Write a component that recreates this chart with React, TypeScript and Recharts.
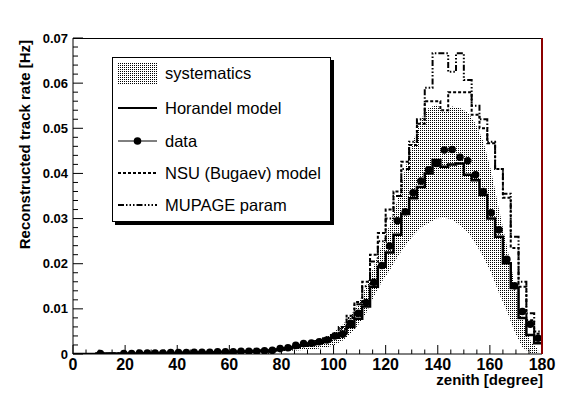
import React from "react";
import { ComposedChart, Area, Line, XAxis, YAxis } from "recharts";

// zenith bins, 3 degrees wide
const binCenters = [
  1.5, 4.5, 7.5, 10.5, 13.5, 16.5, 19.5, 22.5, 25.5, 28.5,
  31.5, 34.5, 37.5, 40.5, 43.5, 46.5, 49.5, 52.5, 55.5, 58.5,
  61.5, 64.5, 67.5, 70.5, 73.5, 76.5, 79.5, 82.5, 85.5, 88.5,
  91.5, 94.5, 97.5, 100.5, 103.5, 106.5, 109.5, 112.5, 115.5, 118.5,
  121.5, 124.5, 127.5, 130.5, 133.5, 136.5, 139.5, 142.5, 145.5, 148.5,
  151.5, 154.5, 157.5, 160.5, 163.5, 166.5, 169.5, 172.5, 175.5, 178.5,
];

const dataRate = [
  null, null, null, 0.0001, null, null, 0.0001, 0.0001, 0.0002, 0.0002,
  0.0002, 0.0002, 0.0003, 0.0003, 0.0003, 0.0004, 0.0004, 0.0004, 0.0005, 0.0005,
  0.0005, 0.0006, 0.0006, 0.0006, 0.0007, 0.0008, 0.0012, 0.0014, 0.0019, 0.0023,
  0.0024, 0.0027, 0.0031, 0.004, 0.0044, 0.0068, 0.009, 0.0114, 0.0159, 0.0196,
  0.0239, 0.0295, 0.0315, 0.0357, 0.0383, 0.0408, 0.0422, 0.0452, 0.0453, 0.0436,
  0.0428, 0.0397, 0.036, 0.0313, 0.0275, 0.021, 0.0151, 0.0094, 0.0066, 0.0035,
];

const horandel = [
  0, 0, 0, 0.0001, 0.0001, 0.0001, 0.0001, 0.0001, 0.0001, 0.0001,
  0.0002, 0.0002, 0.0002, 0.0002, 0.0003, 0.0003, 0.0003, 0.0003, 0.0004, 0.0004,
  0.0004, 0.0005, 0.0005, 0.0006, 0.0007, 0.0008, 0.001, 0.0012, 0.0015, 0.0018,
  0.0021, 0.0025, 0.003, 0.0036, 0.0046, 0.006, 0.0078, 0.0105, 0.0149, 0.0193,
  0.0225, 0.0264, 0.031, 0.0345, 0.037, 0.04, 0.043, 0.0415, 0.042, 0.0422,
  0.0397, 0.0385, 0.0352, 0.03, 0.026, 0.0201, 0.0146, 0.008, 0.0042, 0.0024,
];

const nsu = [
  0, 0, 0, 0.0001, 0.0001, 0.0001, 0.0001, 0.0001, 0.0002, 0.0002,
  0.0002, 0.0002, 0.0003, 0.0003, 0.0003, 0.0003, 0.0004, 0.0004, 0.0004, 0.0005,
  0.0005, 0.0005, 0.0006, 0.0007, 0.0008, 0.0009, 0.0011, 0.0013, 0.0016, 0.002,
  0.0024, 0.0029, 0.0035, 0.0045, 0.006, 0.0085, 0.0115, 0.016, 0.022, 0.0268,
  0.032, 0.036, 0.0426, 0.0463, 0.051, 0.056, 0.056, 0.054, 0.058, 0.058,
  0.058, 0.053, 0.05, 0.0467, 0.041, 0.0346, 0.0235, 0.0149, 0.0075, 0.0045,
];

const mupage = [
  0, 0, 0, 0.0001, 0.0001, 0.0001, 0.0001, 0.0001, 0.0001, 0.0002,
  0.0002, 0.0002, 0.0002, 0.0003, 0.0003, 0.0003, 0.0004, 0.0004, 0.0004, 0.0005,
  0.0005, 0.0005, 0.0006, 0.0007, 0.0008, 0.0009, 0.001, 0.0012, 0.0015, 0.0019,
  0.0023, 0.0028, 0.0034, 0.0042, 0.0055, 0.008, 0.011, 0.015, 0.0205, 0.025,
  0.03, 0.035, 0.041, 0.047, 0.052, 0.059, 0.0666, 0.0666, 0.0625, 0.0666,
  0.0607, 0.055, 0.052, 0.047, 0.041, 0.0355, 0.026, 0.016, 0.009, 0.005,
];

const sysLow = [
  0, 0, 0, 0.0001, 0.0001, 0.0001, 0.0001, 0.0001, 0.0001, 0.0001,
  0.0001, 0.0001, 0.0001, 0.0001, 0.0002, 0.0002, 0.0002, 0.0002, 0.0003, 0.0003,
  0.0003, 0.0003, 0.0003, 0.0004, 0.0005, 0.0005, 0.0006, 0.0007, 0.0008, 0.0009,
  0.001, 0.0012, 0.0015, 0.002, 0.003, 0.0045, 0.0065, 0.009, 0.0128, 0.016,
  0.0185, 0.0215, 0.024, 0.0262, 0.028, 0.029, 0.03, 0.0302, 0.0298, 0.0285,
  0.027, 0.0245, 0.0215, 0.018, 0.0135, 0.0095, 0.005, 0.0015, 0.0002, 0.0001,
];

const sysHigh = [
  0, 0, 0, 0.0002, 0.0002, 0.0002, 0.0002, 0.0002, 0.0002, 0.0002,
  0.0003, 0.0003, 0.0003, 0.0003, 0.0004, 0.0004, 0.0004, 0.0004, 0.0006, 0.0006,
  0.0006, 0.0007, 0.0007, 0.0008, 0.0009, 0.001, 0.0013, 0.0016, 0.002, 0.0024,
  0.0028, 0.0033, 0.004, 0.005, 0.0065, 0.0085, 0.011, 0.015, 0.0195, 0.024,
  0.0285, 0.034, 0.041, 0.047, 0.052, 0.0545, 0.0552, 0.0537, 0.0548, 0.0545,
  0.0535, 0.051, 0.047, 0.0405, 0.032, 0.024, 0.0155, 0.008, 0.003, 0.001,
];

const xTicks = [
  0, 5, 10, 15, 20, 25, 30, 35, 40, 45, 50, 55, 60, 65, 70, 75, 80, 85, 90,
  95, 100, 105, 110, 115, 120, 125, 130, 135, 140, 145, 150, 155, 160, 165, 170, 175, 180,
];
const xTickLabels = ["0", "20", "40", "60", "80", "100", "120", "140", "160", "180"];

const yTicks = [
  0, 0.002, 0.004, 0.006, 0.008, 0.01, 0.012, 0.014, 0.016, 0.018,
  0.02, 0.022, 0.024, 0.026, 0.028, 0.03, 0.032, 0.034, 0.036, 0.038,
  0.04, 0.042, 0.044, 0.046, 0.048, 0.05, 0.052, 0.054, 0.056, 0.058,
  0.06, 0.062, 0.064, 0.066, 0.068, 0.07,
];
const yTickLabels = ["0", "0.01", "0.02", "0.03", "0.04", "0.05", "0.06", "0.07"];

const BIN_WIDTH = 3;
const FONT = "'Liberation Sans', Arial, Helvetica, sans-serif";
const X_TM = 10;
const Y_TM = 10;

const DOTTED = "3 2";
const DASHDOT = "6 2 1.5 2 1.5 2 1.5 2";

// histogram rows at the low edge of each bin, plus the closing edge
const last = binCenters.length - 1;
const stepRows = binCenters.map((c, i) => ({
  x: c - BIN_WIDTH / 2,
  horandel: horandel[i],
  nsu: nsu[i],
  mupage: mupage[i],
}));
stepRows.push({ x: 180, horandel: horandel[last], nsu: nsu[last], mupage: mupage[last] });

const bandRows = binCenters.map((c, i) => ({ x: c, band: [sysLow[i], sysHigh[i]] }));
const pointRows = binCenters
  .map((c, i) => ({ x: c, rate: dataRate[i] }))
  .filter((r) => r.rate !== null);

function XTick(props: any) {
  const { x, y, index } = props;
  const axisY = y - X_TM;
  const major = index % 4 === 0;
  return (
    <g>
      <line x1={x} x2={x} y1={axisY} y2={axisY - (major ? 9 : 4.5)} stroke="#000" strokeWidth={1} />
      {major && (
        <text x={x} y={axisY + 15.5} textAnchor="middle" fontFamily={FONT} fontWeight="bold" fontSize={16} fill="#000">
          {xTickLabels[index / 4]}
        </text>
      )}
    </g>
  );
}

function YTick(props: any) {
  const { x, y, index } = props;
  const axisX = x + Y_TM;
  const major = index % 5 === 0;
  return (
    <g>
      <line x1={axisX} x2={axisX + (major ? 10 : 5)} y1={y} y2={y} stroke="#000" strokeWidth={1} />
      {major && (
        <text x={axisX - 5} y={y + 4.6} textAnchor="end" fontFamily={FONT} fontWeight="bold" fontSize={13} fill="#000">
          {yTickLabels[index / 5]}
        </text>
      )}
    </g>
  );
}

function LegendBox() {
  const rows = [16, 51, 84, 116, 148];
  const textStyle = { fontFamily: FONT, fontSize: 16.5, fill: "#000" };
  return (
    <svg width={224} height={170} style={{ position: "absolute", left: 112, top: 57 }}>
      <rect x={3} y={3} width={219} height={165} fill="#000" />
      <rect x={0.5} y={0.5} width={218} height={164} fill="#fff" stroke="#000" strokeWidth={1} />
      <rect x={6} y={5} width={39} height={23} fill="url(#sysDots)" />
      <text x={53} y={rows[0] + 5.5} {...textStyle}>systematics</text>
      <line x1={6} x2={45} y1={rows[1]} y2={rows[1]} stroke="#000" strokeWidth={2} />
      <text x={53} y={rows[1] + 5.5} {...textStyle}>Horandel model</text>
      <line x1={6} x2={45} y1={rows[2]} y2={rows[2]} stroke="#000" strokeWidth={1} />
      <circle cx={25.5} cy={rows[2]} r={3.8} fill="#000" />
      <text x={53} y={rows[2] + 5.5} {...textStyle}>data</text>
      <line x1={6} x2={45} y1={rows[3]} y2={rows[3]} stroke="#000" strokeWidth={2} strokeDasharray={DOTTED} />
      <text x={53} y={rows[3] + 5.5} {...textStyle}>NSU (Bugaev) model</text>
      <line x1={6} x2={45} y1={rows[4]} y2={rows[4]} stroke="#000" strokeWidth={2} strokeDasharray={DASHDOT} />
      <text x={53} y={rows[4] + 5.5} {...textStyle}>MUPAGE param</text>
    </svg>
  );
}

export default function App() {
  return (
    <div style={{ position: "absolute", left: 0, top: 0, width: 588, height: 395, background: "#fff" }}>
      <svg width={0} height={0} style={{ position: "absolute" }}>
        <defs>
          <pattern id="sysDots" width={2} height={2} patternUnits="userSpaceOnUse">
            <rect x={0} y={0} width={1} height={1} fill="#000" />
          </pattern>
        </defs>
      </svg>
      <ComposedChart width={588} height={395} margin={{ top: 38, right: 46, bottom: 11, left: 13 }}>
        <XAxis
          type="number"
          dataKey="x"
          domain={[0, 180]}
          ticks={xTicks}
          interval={0}
          allowDataOverflow
          height={30}
          tickLine={false}
          tickSize={0}
          tickMargin={X_TM}
          tick={(p: any) => <XTick {...p} />}
          axisLine={{ stroke: "#000", strokeWidth: 1 }}
        />
        <YAxis
          type="number"
          domain={[0, 0.07]}
          ticks={yTicks}
          interval={0}
          allowDataOverflow
          width={60}
          tickLine={false}
          tickSize={0}
          tickMargin={Y_TM}
          tick={(p: any) => <YTick {...p} />}
          axisLine={{ stroke: "#000", strokeWidth: 1 }}
        />
        <Area
          data={bandRows}
          dataKey="band"
          type="linear"
          fill="url(#sysDots)"
          fillOpacity={1}
          stroke="none"
          isAnimationActive={false}
        />
        <Line
          data={stepRows}
          dataKey="mupage"
          type="stepAfter"
          stroke="#000"
          strokeWidth={2}
          strokeDasharray={DASHDOT}
          dot={false}
          isAnimationActive={false}
        />
        <Line
          data={stepRows}
          dataKey="nsu"
          type="stepAfter"
          stroke="#000"
          strokeWidth={2}
          strokeDasharray={DOTTED}
          dot={false}
          isAnimationActive={false}
        />
        <Line
          data={stepRows}
          dataKey="horandel"
          type="stepAfter"
          stroke="#000"
          strokeWidth={2.5}
          dot={false}
          isAnimationActive={false}
        />
        <Line
          data={pointRows}
          dataKey="rate"
          stroke="none"
          dot={{ r: 3.8, fill: "#000", stroke: "#000", strokeWidth: 0 }}
          isAnimationActive={false}
        />
      </ComposedChart>
      <svg width={588} height={395} style={{ position: "absolute", left: 0, top: 0, pointerEvents: "none" }}>
        <line x1={73} x2={542} y1={38.5} y2={38.5} stroke="#000" strokeWidth={1} />
        <line x1={542} x2={542} y1={38} y2={354} stroke="#8b0000" strokeWidth={2} />
        <text x={543} y={385} textAnchor="end" fontFamily={FONT} fontWeight="bold" fontSize={15} fill="#000">
          zenith [degree]
        </text>
        <text
          transform="translate(30,40) rotate(-90)"
          textAnchor="end"
          fontFamily={FONT}
          fontWeight="bold"
          fontSize={15}
          fill="#000"
        >
          Reconstructed track rate [Hz]
        </text>
      </svg>
      <LegendBox />
    </div>
  );
}
